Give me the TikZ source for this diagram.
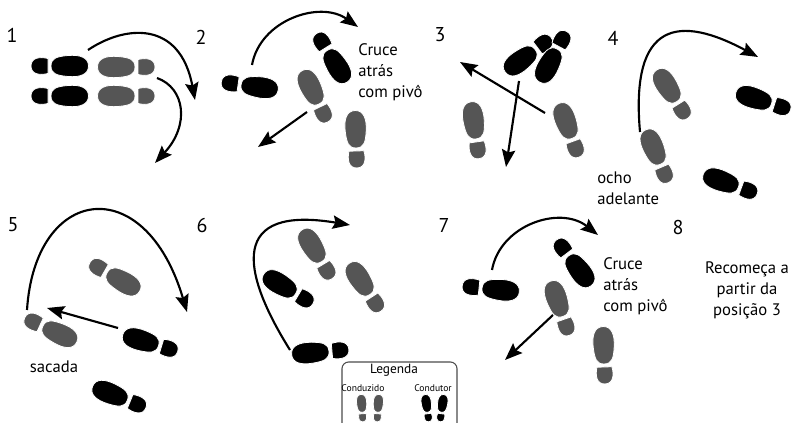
\documentclass[tikz,border=0pt]{standalone}
\usepackage{fontspec}
\setmainfont{PT Sans}
\usepackage{tikz}
\usetikzlibrary{arrows.meta}
\definecolor{shoegray}{RGB}{85,85,85}

\tikzset{
  pics/shoe/.style={code={
    \filldraw[#1,draw=white,line width=0.6pt] (-12,-7.5) .. controls (-20,-9.5) and (-29,-8.5) .. (-29,0)
      .. controls (-29,8.5) and (-20,9.5) .. (-12,7.5) -- cycle;
    \filldraw[#1,draw=white,line width=0.6pt] (-9,0) .. controls (-9,-8) and (-3,-9.5) .. (8,-10.5)
      .. controls (20,-11.5) and (28.5,-8.5) .. (28.5,0)
      .. controls (28.5,8.5) and (20,11.5) .. (8,10.5)
      .. controls (-3,9.5) and (-9,8) .. (-9,0) -- cycle;
  }},
  walk/.style={line width=1.6pt,-{Stealth[length=13pt,width=10pt,inset=2pt]}},
  num/.style={font=\fontsize{15}{18}\selectfont,inner sep=0pt},
  txt/.style={font=\fontsize{12.5}{15.75}\selectfont,inner sep=0pt}
}

\begin{document}
\begin{tikzpicture}[x=0.75pt,y=-0.75pt]
  \useasboundingbox (0,0) rectangle (792,423);
  \clip (0,0) rectangle (792,423);
  \fill[white] (0,0) rectangle (792,423);

  % 1
  \node[num] (n1) at (12,35) {1};
  \pic at (60,66) {shoe=black};
  \pic at (60,96) {shoe=black};
  \pic[rotate=180] at (126,67) {shoe=shoegray};
  \pic[rotate=180] at (126,96) {shoe=shoegray};
  \draw[walk] (88,50) .. controls (125,25) and (180,20) .. (195,100);
  \draw[walk] (157,78) .. controls (185,88) and (190,125) .. (155,163);

  % 2
  \node[num] (n2) at (201,37) {2};
  \pic[rotate=-8] at (250,86) {shoe=black};
  \pic[rotate=-58] at (332,58) {shoe=black};
  \pic[rotate=116] at (315,96) {shoe=shoegray};
  \pic[rotate=92] at (356,139) {shoe=shoegray};
  \draw[walk] (252,65) .. controls (260,20) and (320,0) .. (358,27);
  \draw[walk] (307,112) -- (258,147);
  \node[txt,align=left,anchor=north west] (t2) at (358,43) {Cruce\\atrás\\com pivô};

  % 3
  \node[num] (n3) at (440,35) {3};
  \pic[rotate=-143] at (528,55) {shoe=black};
  \pic[rotate=-118] at (553,57) {shoe=black};
  \pic[rotate=98] at (475,130) {shoe=shoegray};
  \pic[rotate=110] at (569,130) {shoe=shoegray};
  \draw[walk] (545,113) -- (460,62);
  \draw[walk] (519,81) -- (506,167);

  % 4
  \node[num] (n4) at (613,38) {4};
  \pic[rotate=122] at (672,94) {shoe=shoegray};
  \pic[rotate=113] at (657,156) {shoe=shoegray};
  \pic[rotate=162] at (763,101) {shoe=black};
  \pic[rotate=160] at (730,184) {shoe=black};
  \draw[walk] (640,132) .. controls (630,20) and (680,15) .. (758,57);
  \node[txt,align=left,anchor=north west] (t4) at (597,172) {ocho\\adelante};

  % 5
  \node[num] (n5) at (13,225) {5};
  \pic[rotate=-30] at (115,277) {shoe=shoegray};
  \pic[rotate=-25] at (51,330) {shoe=shoegray};
  \pic[rotate=163] at (150,343) {shoe=black};
  \pic[rotate=158] at (119,397) {shoe=black};
  \draw[walk] (27,310) .. controls (35,185) and (145,170) .. (187,312);
  \draw[walk] (118,328) -- (47,308);
  \node[txt] (t5) at (54,367) {sacada};

  % 6
  \node[num] (n6) at (202,226) {6};
  \pic[rotate=121] at (317,254) {shoe=shoegray};
  \pic[rotate=123] at (365,287) {shoe=shoegray};
  \pic[rotate=149] at (288,289) {shoe=black};
  \pic[rotate=185] at (320,352) {shoe=black};
  \draw[walk] (290,350) .. controls (240,270) and (230,205) .. (350,225);

  % 7
  \node[num] (n7) at (444,226) {7};
  \pic[rotate=-6] at (491,289) {shoe=black};
  \pic[rotate=-53] at (574,263) {shoe=black};
  \pic[rotate=109] at (560,308) {shoe=shoegray};
  \pic[rotate=92] at (604,355) {shoe=shoegray};
  \draw[walk] (492,270) .. controls (500,225) and (560,205) .. (598,235);
  \draw[walk] (553,315) -- (505,360);
  \node[txt,align=left,anchor=north west] (t7) at (603,257) {Cruce\\atrás\\com pivô};

  % 8
  \node[num] (n8) at (678,228) {8};
  \node[txt,align=center,anchor=north] (t8) at (747,261) {Recomeça a\\partir da\\posição 3};

  % legenda
  \draw[gray!60!black,line width=0.8pt,rounded corners=5] (342,432) rectangle (457,362);
  \node[font=\fontsize{10}{12}\selectfont,inner sep=0pt] (leg) at (394,370) {Legenda};
  \node[font=\fontsize{7.2}{8}\selectfont,inner sep=0pt] (cz) at (363,388) {Conduzido};
  \node[font=\fontsize{7.2}{8}\selectfont,inner sep=0pt] (ct) at (433,388) {Condutor};
  \pic[rotate=94,scale=0.48] at (362,408) {shoe=shoegray};
  \pic[rotate=86,scale=0.48] at (378,408) {shoe=shoegray};
  \pic[rotate=98,scale=0.48] at (427,408) {shoe=black};
  \pic[rotate=82,scale=0.48] at (442,408) {shoe=black};
\end{tikzpicture}
\end{document}
